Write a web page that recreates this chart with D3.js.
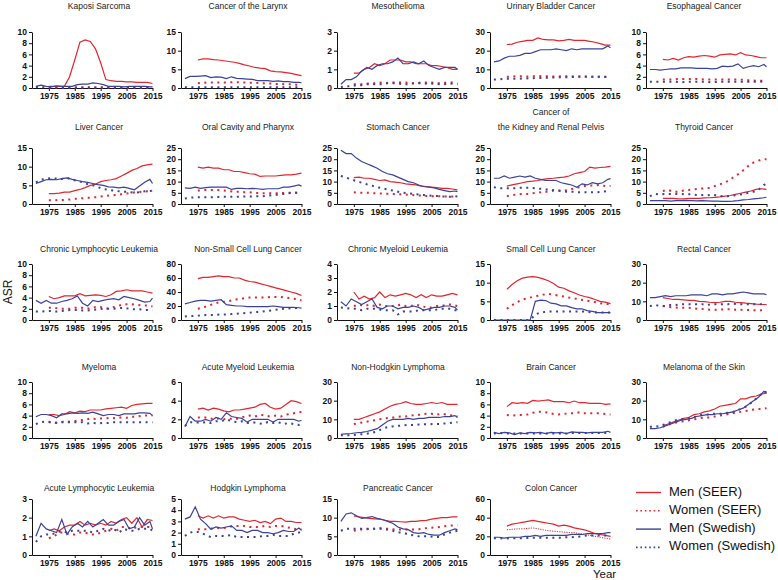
<!DOCTYPE html>
<html><head><meta charset="utf-8">
<script src="https://cdn.jsdelivr.net/npm/d3@7"></script>
<style>body{margin:0;background:#fff} svg{display:block} text{font-family:"Liberation Sans",Arial,sans-serif}</style>
</head><body><svg id="c" width="778" height="580"></svg>
<script>
const titles = ["Kaposi Sarcoma","Cancer of the Larynx","Mesothelioma","Urinary Bladder Cancer","Esophageal Cancer",
"Liver Cancer","Oral Cavity and Pharynx","Stomach Cancer","Cancer of\nthe Kidney and Renal Pelvis","Thyroid Cancer",
"Chronic Lymphocytic Leukemia","Non-Small Cell Lung Cancer","Chronic Myeloid Leukemia","Small Cell Lung Cancer","Rectal Cancer",
"Myeloma","Acute Myeloid Leukemia","Non-Hodgkin Lymphoma","Brain Cancer","Melanoma of the Skin",
"Acute Lymphocytic Leukemia","Hodgkin Lymphoma","Pancreatic Cancer","Colon Cancer"];
const yMax  = [10,15,3,30,10, 15,25,25,25,25, 10,80,4,15,30, 10,6,30,10,30, 3,5,15,60];
const yStep = [2,5,1,10,2, 5,5,5,5,5, 2,20,1,5,10, 2,2,10,2,10, 1,1,5,20];
const xTicks = [1975,1985,1995,2005,2015];
const yearsSEER = [1975,1977,1979,1981,1983,1985,1987,1989,1991,1993,1995,1997,1999,2001,2003,2005,2007,2009,2011,2013,2015];
const yearsSwe  = [1970,1972,1974,1976,1978,1980,1982,1984,1986,1988,1990,1992,1994,1996,1998,2000,2002,2004,2006,2008,2010,2012,2014,2015];
const seriesNames = ["Men (SEER)","Women (SEER)","Men (Swedish)","Women (Swedish)"];

const menSEER = [
[0.3,0.3,0.3,0.3,2.0,5.0,8.2,8.6,8.3,7.0,4.5,1.5,1.3,1.2,1.2,1.1,1.1,1.0,1.0,1.0,0.8],
[7.5,7.8,7.8,7.6,7.5,7.3,7.1,6.9,6.6,6.2,5.9,5.5,5.3,5.2,4.6,4.4,4.3,4.1,3.9,3.6,3.3],
[0.8,0.8,1.0,1.1,1.3,1.2,1.3,1.5,1.5,1.5,1.4,1.4,1.3,1.3,1.3,1.2,1.2,1.15,1.1,1.0,1.0],
[23.3,23.5,24.5,25.0,25.5,25.5,26.8,26.0,25.8,25.8,25.3,25.5,26.0,25.5,25.5,25.5,25.0,24.5,23.8,23.0,23.0],
[5.1,5.0,5.3,5.0,5.4,5.6,5.5,5.7,5.8,5.7,5.5,5.9,6.0,6.1,5.9,6.3,5.9,5.8,5.6,5.4,5.4],
[2.8,2.8,2.9,3.2,3.2,3.6,3.9,4.4,5.0,5.3,6.0,6.3,6.5,6.8,7.5,8.2,9.0,9.5,10.2,10.5,10.7],
[16.5,16.0,16.5,16.0,16.0,15.3,15.3,14.5,14.5,14.0,13.5,13.3,12.3,12.5,12.5,12.5,12.8,13.0,13.0,13.3,13.8],
[11.8,12.0,11.5,11.5,11.0,10.5,10.8,10.0,9.8,9.5,9.0,8.8,8.5,8.0,7.8,7.6,7.3,7.0,7.0,6.7,6.3],
[8.0,8.5,9.0,9.5,10.0,10.2,10.5,11.0,11.3,11.5,11.8,12.0,12.5,13.5,14.0,14.5,16.5,16.0,16.3,16.5,16.8],
[2.5,2.5,2.5,2.3,2.3,2.5,2.5,2.5,2.7,2.8,3.0,3.2,3.5,3.8,4.3,4.8,5.3,5.8,6.5,6.8,6.5],
[4.2,3.8,4.0,4.3,4.3,4.3,4.7,4.3,4.4,4.5,4.4,4.2,4.5,5.1,5.2,5.4,5.2,5.2,5.2,5.0,4.8],
[59,61,61,62,63,62,62,60,60,57,55,54,52,50,48,46,44,42,40,38,35],
[2.0,1.5,1.7,1.5,1.6,2.0,1.6,1.8,1.7,1.8,1.9,1.8,1.6,1.8,1.6,1.8,1.7,1.7,1.8,1.9,1.8],
[8.2,9.5,10.5,11.2,11.5,11.6,11.4,11.0,10.5,9.8,8.8,8.5,7.8,7.3,6.7,6.3,6.0,5.5,5.0,4.8,4.4],
[12.0,11.5,11.0,11.0,10.8,10.5,10.5,10.0,9.8,9.5,9.3,9.5,10.0,10.0,9.5,9.3,9.0,8.8,8.5,8.3,8.3],
[4.2,4.2,4.0,4.2,4.7,4.5,4.8,4.7,5.0,5.0,5.0,5.2,5.3,5.4,5.5,5.3,5.8,6.0,6.1,6.2,6.2],
[3.1,3.2,3.0,3.2,3.1,2.9,2.8,3.0,3.0,3.1,3.2,3.3,3.6,3.7,3.3,3.1,3.2,3.6,4.0,3.9,3.7],
[10,10,11,12,13,14,15.5,17,18,18.5,19.5,18.5,18,18,18.5,19,18.5,19,18,18,18],
[5.6,6.3,6.2,6.3,6.2,6.7,6.6,6.7,6.8,6.5,6.5,6.5,6.3,6.6,6.3,6.3,6.2,6.2,6.2,6.0,6.1],
[6.5,7.5,8.5,9.5,10.5,11.0,12.5,13.0,14.0,14.5,15.5,17.0,17.5,18.0,18.5,21.0,21.0,22.0,22.5,23.5,24.0],
[1.3,1.4,1.3,1.5,1.6,1.6,1.8,1.6,1.7,1.6,1.7,1.6,1.8,1.7,1.9,2.0,1.7,2.0,1.5,1.9,1.85],
[3.5,3.3,3.5,3.3,3.5,3.3,3.4,3.4,3.2,3.1,3.0,3.1,2.9,3.0,2.8,3.2,3.3,3.0,3.0,2.9,2.9],
[10.5,10.2,10.0,9.8,9.7,9.6,9.3,9.0,9.0,8.9,8.8,9.0,9.0,9.2,9.3,9.6,9.8,10.0,10.0,10.2,10.2],
[31,33,34,35,36,37,36,35,34,33,31,32,31,29,28,27,25,23,22,21,20]];

const womenSEER = [
[0.1,0.1,0.1,0.1,0.1,0.1,0.1,0.1,0.1,0.1,0.1,0.1,0.1,0.1,0.1,0.1,0.1,0.1,0.1,0.1,0.1],
[1.3,1.4,1.5,1.5,1.5,1.5,1.5,1.6,1.5,1.5,1.4,1.4,1.3,1.3,1.2,1.1,1.1,1.0,1.0,0.9,0.8],
[0.2,0.2,0.2,0.25,0.25,0.3,0.25,0.3,0.3,0.3,0.3,0.25,0.25,0.3,0.3,0.3,0.25,0.25,0.3,0.3,0.25],
[6.0,6.2,6.3,6.3,6.2,6.3,6.4,6.3,6.3,6.2,6.2,6.3,6.3,6.2,6.2,6.1,6.1,6.0,6.0,5.9,5.8],
[1.5,1.5,1.5,1.6,1.6,1.6,1.6,1.6,1.5,1.5,1.5,1.5,1.5,1.5,1.5,1.5,1.4,1.4,1.3,1.3,1.3],
[1.0,1.0,1.1,1.1,1.2,1.4,1.5,1.6,1.7,1.8,2.0,2.2,2.3,2.4,2.6,2.8,3.0,3.2,3.3,3.4,3.5],
[6.0,6.2,6.3,6.3,6.2,6.0,5.8,5.5,5.5,5.3,5.2,5.0,4.8,4.8,4.8,4.8,4.9,5.0,5.0,5.0,5.0],
[5.2,5.1,5.0,5.0,4.8,4.7,4.6,4.5,4.4,4.3,4.2,4.0,3.9,3.8,3.6,3.5,3.5,3.4,3.4,3.3,3.2],
[3.5,4.0,4.3,4.5,4.5,4.8,5.0,5.5,5.5,6.0,6.0,6.0,6.3,7.0,7.5,8.0,8.3,8.3,8.5,8.0,8.0],
[5.8,6.3,5.5,5.5,6.0,6.3,6.5,6.8,7.0,7.2,8.0,8.8,9.5,11.0,12.5,14.0,16.0,18.0,19.0,19.8,20.0],
[2.2,2.2,2.0,2.0,2.0,2.2,2.2,2.2,2.0,2.3,2.3,2.0,2.2,2.4,2.7,2.8,2.8,2.7,2.6,2.6,2.4],
[16,18,20,23,25,26,27,29,30,31,32,32,32,32,33,33,33,32,31,30,28],
[1.0,1.1,1.0,1.1,1.0,1.1,1.0,1.0,1.0,1.1,1.0,1.0,1.1,1.0,0.9,0.9,1.0,1.0,1.1,1.1,1.0],
[3.0,4.0,4.8,5.5,5.8,6.2,6.5,6.8,7.0,6.8,6.5,6.3,6.0,5.8,5.5,5.3,5.0,4.8,4.5,4.3,4.2],
[7.5,7.0,6.8,6.5,6.5,6.5,6.2,6.0,5.8,5.5,5.5,5.5,5.8,5.8,5.5,5.5,5.3,5.3,5.2,5.2,5.0],
[2.8,2.8,2.7,3.0,2.9,3.0,3.2,3.2,3.5,3.4,3.5,3.5,3.6,3.5,3.7,3.6,3.8,3.8,4.0,4.0,4.0],
[2.2,2.2,2.2,2.0,2.1,2.0,2.1,2.0,2.1,2.3,2.4,2.3,2.5,2.4,2.3,2.4,2.3,2.5,2.6,2.7,2.8],
[7.5,8,8.5,9,9.5,10,10.5,11,11,11.5,11.5,12,12.5,12.5,13,13,12.5,13,12.5,12,11.5],
[4.1,4.0,4.1,4.1,4.2,4.5,4.7,4.7,4.5,4.3,4.2,4.3,4.4,4.4,4.6,4.4,4.4,4.4,4.4,4.3,4.2],
[6.0,7.0,8.0,8.5,9.0,9.5,10.0,10.5,11.0,11.0,11.5,12.0,12.5,13.0,13.5,14.0,14.5,15.0,15.5,15.5,16.0],
[0.9,1.0,1.2,1.2,1.1,1.1,1.2,1.2,1.1,1.1,1.2,1.3,1.4,1.3,1.5,1.5,1.4,1.5,1.5,1.5,1.5],
[2.3,2.3,2.3,2.4,2.4,2.4,2.5,2.6,2.6,2.6,2.5,2.5,2.5,2.6,2.5,2.6,2.6,2.5,2.4,2.3,2.3],
[6.5,6.8,6.8,7.0,7.0,7.2,7.0,7.0,6.8,6.8,6.8,6.8,6.8,7.0,7.2,7.3,7.4,7.6,7.8,7.9,8.0],
[27,27.5,28,28,28.5,29,28,27,26,25.5,25,24.5,24,24,23,22,21,20,19,18,17]];

const menSwe = [
[0.3,0.5,0.3,0.2,0.4,0.3,0.3,0.3,0.6,0.7,0.7,0.9,0.8,0.6,0.3,0.3,0.3,0.2,0.3,0.3,0.3,0.3,0.2,0.2],
[2.5,3.1,3.1,3.2,3.3,2.8,3.0,2.9,2.5,3.0,2.6,2.5,2.4,2.3,2.0,2.0,2.0,1.8,1.9,1.7,1.7,1.5,1.5,1.4],
[0.2,0.45,0.45,0.6,0.9,1.1,1.0,1.2,1.3,1.3,1.4,1.6,1.3,1.3,1.4,1.3,1.45,1.2,1.1,1.0,1.1,1.1,1.1,1.0],
[14,14.5,16,17,17,17.5,18.5,18.5,19.5,20.5,20.5,20.5,21,20.5,20,21,20.5,21,21,21,21,21,22.5,21.5],
[3.3,3.3,3.2,3.3,3.4,3.4,3.6,3.6,3.6,3.5,3.5,3.5,3.4,3.5,3.9,3.8,3.9,4.3,3.5,3.8,4.0,3.8,4.2,3.8],
[5.5,6.0,6.5,6.6,6.5,6.8,7.0,6.6,6.3,6.0,5.8,5.5,5.2,5.0,4.6,4.5,4.3,4.5,4.2,3.8,4.8,5.8,6.6,5.5],
[7.2,7.0,7.5,7.0,7.3,7.5,7.5,7.5,7.5,6.5,7.0,7.0,6.8,7.0,6.8,6.5,6.8,6.8,6.8,7.5,7.5,8.0,8.5,8.0],
[24,22.5,22.5,20.5,19,18,17,16,14.5,13.5,13,12,11,10,9.5,8.5,7.8,7.5,7.2,6.5,6.0,5.5,5.8,5.5],
[11.5,11.5,12.5,11.5,12,12.5,12,12.5,11.5,11,10.5,10.5,10.5,9.5,9.0,8.5,7.5,9.0,8.5,9.5,9.0,9.5,11.0,11.3],
[1.5,1.5,1.5,1.5,1.3,1.5,1.5,1.6,1.5,1.4,1.5,1.4,1.3,1.3,1.2,1.2,1.3,1.5,1.8,2.0,2.3,2.5,2.8,3.0],
[3.5,3.0,3.5,3.0,3.0,3.3,3.5,3.8,4.3,3.0,2.5,3.5,3.3,3.5,3.7,3.8,3.6,4.2,4.0,3.8,3.5,3.2,3.3,3.9],
[23,25,27,28,28,27,28,29,22,21,20,20,19,19,19,19,19,20,19,18,18,18,17.5,17],
[1.3,1.0,1.5,1.3,1.1,1.3,1.5,0.9,0.8,1.0,1.0,0.8,0.9,0.9,1.0,0.9,0.7,0.8,0.9,0.9,1.0,1.0,0.9,0.7],
[0,0,0,0,0,0,0,0,5.0,5.3,5.2,4.5,4.3,3.8,3.8,3.3,3.0,3.0,2.5,2.3,2.0,2.0,2.0,2.0],
[12.0,12.0,12.5,13.0,12.5,13.0,13.0,13.0,13.5,13.5,13.5,13.0,14.0,14.0,13.5,14.0,14.0,14.5,15.0,14.5,14.0,14.0,14.0,13.5],
[3.8,4.2,4.2,4.0,3.6,4.3,4.3,4.5,4.4,4.5,4.4,4.6,4.3,4.0,4.2,4.2,4.0,4.3,4.3,4.3,4.5,4.5,4.4,4.0],
[1.2,2.3,1.8,1.8,2.0,1.8,2.2,2.0,2.7,2.3,2.2,2.1,1.7,2.0,2.0,2.0,2.0,1.7,2.0,2.0,2.0,2.0,1.8,1.9],
[2.0,2.2,2.4,2.8,3.0,3.5,4.2,5.0,7.0,9.0,10.0,10.0,10.0,10.5,10.0,10.5,10.5,11.0,11.0,11.0,11.5,11.5,12.0,11.0],
[1.0,0.8,1.0,0.9,0.6,0.9,0.8,1.0,0.9,1.0,0.8,1.0,0.9,1.0,0.8,1.1,1.0,1.0,0.9,1.0,1.0,1.0,1.2,1.0],
[5.0,5.0,5.5,6.5,7.5,8.5,9.5,10.0,10.5,11.5,12.0,12.5,12.5,13.0,13.0,13.5,14.0,15.0,16.0,18.0,20.0,22.0,25.0,24.0],
[1.0,1.7,1.4,1.3,1.2,1.9,1.1,1.5,1.7,1.5,1.8,1.5,1.7,1.9,1.6,1.6,1.8,1.9,1.4,1.5,2.0,1.6,1.8,1.4],
[3.2,3.4,4.3,3.2,2.8,2.3,2.5,2.4,2.5,2.6,2.2,2.2,2.0,2.2,2.2,2.0,2.0,1.9,2.0,2.2,2.1,2.1,2.4,2.2],
[9.0,11.0,11.3,10.5,9.8,10.0,10.3,9.8,9.5,9.0,8.5,7.5,7.0,6.8,6.0,5.8,6.0,5.5,5.3,5.3,6.0,6.5,7.0,6.8],
[19,19,18,19,19,19,20,20,21,20,21,21,21,21,21,22,22,22,23,23,23,23,24,24]];

const womenSwe = [
[0.2,0.2,0.1,0.1,0.1,0.1,0.1,0.1,0.1,0.1,0.1,0.1,0.1,0.1,0.1,0.1,0.1,0.1,0.1,0.1,0.1,0.1,0.1,0.1],
[0.2,0.2,0.2,0.2,0.2,0.2,0.2,0.2,0.2,0.2,0.2,0.2,0.2,0.2,0.2,0.2,0.2,0.2,0.2,0.2,0.2,0.2,0.2,0.2],
[0.05,0.1,0.1,0.15,0.15,0.2,0.2,0.2,0.2,0.25,0.25,0.25,0.2,0.2,0.25,0.25,0.25,0.2,0.25,0.2,0.2,0.25,0.2,0.2],
[4.5,4.7,4.8,5.0,5.0,5.0,5.1,5.2,5.3,5.4,5.5,5.6,5.7,5.8,5.8,5.9,6.0,6.0,6.0,6.0,6.0,6.0,6.0,6.0],
[1.1,1.1,1.1,1.1,1.1,1.1,1.0,1.1,1.1,1.1,1.1,1.1,1.0,1.1,1.1,1.1,1.1,1.1,1.1,1.1,1.1,1.1,1.2,1.2],
[5.8,6.5,6.8,6.9,6.8,6.7,7.0,6.5,6.2,5.8,5.3,5.0,4.5,4.0,3.8,3.6,3.4,3.3,3.2,3.0,3.2,3.4,3.5,3.6],
[2.5,2.8,3.0,3.0,3.0,3.0,3.1,3.2,3.2,3.2,3.2,3.3,3.3,3.4,3.5,3.5,3.7,4.0,4.2,4.5,4.8,5.0,5.0,5.0],
[12.5,11.8,11.0,10.2,9.5,8.8,8.2,7.5,7.0,6.5,6.0,5.5,5.0,4.8,4.5,4.2,4.0,3.8,3.6,3.5,3.3,3.2,3.5,3.3],
[7.5,7.0,7.0,7.0,7.0,7.2,7.3,7.3,7.0,6.8,6.5,6.3,6.0,5.8,5.5,5.5,5.3,5.3,5.2,5.2,5.3,5.5,5.8,5.8],
[3.5,4.5,4.2,4.5,4.5,4.5,4.5,4.3,4.3,4.0,4.0,3.8,4.2,3.8,3.5,3.5,3.8,4.0,4.5,5.0,5.5,6.5,8.5,9.0],
[1.5,1.5,1.6,1.6,1.5,1.6,1.7,1.8,1.8,1.7,1.7,1.8,1.9,2.0,2.0,2.0,2.1,2.2,2.0,1.9,1.9,1.8,1.8,1.8],
[5,5.5,6,6.5,7,7,7.5,8,8,8.5,9,9.5,10,11,11.5,12,13,14,15,16,16.5,17,17,17],
[0.9,0.85,0.8,0.8,0.7,0.8,0.8,0.8,0.7,0.7,0.7,0.4,0.6,0.6,0.6,0.7,0.7,0.7,0.7,0.8,0.8,0.8,0.7,0.7],
[0,0,0,0,0,0,0,0,1.5,2.0,2.2,2.3,2.3,2.3,2.3,2.3,2.3,2.3,2.2,2.0,2.0,2.0,2.0,2.0],
[7.5,8.0,7.5,7.5,8.0,8.0,8.5,8.5,8.5,8.5,8.5,8.0,8.5,8.5,8.5,8.5,8.8,8.5,8.5,8.5,8.5,8.5,8.3,8.0],
[2.5,2.8,3.0,2.8,2.7,2.8,2.8,2.8,2.8,2.8,2.6,2.7,2.6,2.7,2.7,2.8,2.8,2.8,2.8,2.8,2.8,2.8,2.8,2.8],
[1.3,1.7,1.7,1.6,1.7,1.6,1.8,1.8,2.0,1.8,1.7,1.8,1.6,1.7,1.6,1.5,1.7,1.6,1.7,1.5,1.6,1.5,1.4,1.5],
[1.5,1.5,1.5,1.8,2.0,2.3,2.8,3.5,5.0,5.8,6.2,6.5,6.8,7.0,7.0,7.2,7.3,7.3,7.5,7.5,7.8,8.0,8.5,8.5],
[0.8,0.9,0.8,0.8,0.8,0.8,0.8,0.8,0.8,0.8,0.8,0.8,0.8,0.8,0.8,0.9,0.9,0.9,0.9,0.9,0.9,0.9,0.9,0.9],
[6.0,6.0,6.5,7.5,8.5,9.5,10.0,10.5,11.0,11.5,12.5,12.5,13.0,13.0,13.0,13.5,14.0,15.0,16.0,17.5,20.0,22.0,25.0,24.5],
[0.7,1.0,1.1,1.1,1.2,1.3,1.2,1.3,1.3,1.3,1.3,1.2,1.3,1.4,1.3,1.4,1.2,1.4,1.3,1.3,1.4,1.4,1.4,1.3],
[1.7,2.0,2.1,2.0,1.8,1.6,1.7,1.7,1.7,1.8,1.6,1.6,1.6,1.6,1.6,1.7,1.7,1.8,1.7,1.7,1.7,1.9,2.0,2.1],
[6.5,7.0,7.0,7.0,7.0,7.0,7.0,7.0,7.0,6.8,6.5,6.0,6.0,5.5,5.3,5.0,5.0,5.0,4.8,4.8,5.5,6.0,6.3,6.5],
[18,18,17.5,18,18,18,18,18.5,18.5,18.5,18.5,18.5,18.5,18.5,19,19,19.5,20,21,21,21,21,21,21]];

const RED = "#e1262f", BLUE = "#3a429c";
const colX = [32,181,337,490,646], rowY = [32,148,264,382,499];
const titleCX = [99,248,398,551,704], titleCY = [6,127,249,367,488];
const W = 120.5, H = 56;

const svg = d3.select("#c");
const styles = [
  {data: menSEER, years: yearsSEER, color: RED, dash: null},
  {data: womenSEER, years: yearsSEER, color: RED, dash: "2,4.5"},
  {data: menSwe, years: yearsSwe, color: BLUE, dash: null},
  {data: womenSwe, years: yearsSwe, color: BLUE, dash: "2,4.5"}
];

titles.forEach((t, i) => {
  const col = i % 5, row = Math.floor(i / 5);
  const g = svg.append("g").attr("transform", `translate(${colX[col]},${rowY[row]})`);
  const x = d3.scaleLinear().domain([1968.5, 2015]).range([0, W]);
  const y = d3.scaleLinear().domain([0, yMax[i]]).range([H, 0]);
  const line = d3.line().x(d => x(d[0])).y(d => y(d[1]));

  const ya = g.append("g").call(d3.axisLeft(y).tickValues(d3.range(0, yMax[i] + 1e-9, yStep[i]))
    .tickFormat(d3.format("d")).tickSize(3).tickSizeOuter(0).tickPadding(2));
  const xa = g.append("g").attr("transform", `translate(0,${H})`).call(d3.axisBottom(x).tickValues(xTicks)
    .tickFormat(d3.format("d")).tickSize(3).tickSizeOuter(0).tickPadding(1.5));
  [ya, xa].forEach(a => {
    a.selectAll("path,line").attr("stroke", "#111").attr("stroke-width", 1);
    a.selectAll("text").attr("fill", "#111").style("font-size", "8.5px").style("font-weight", "bold");
  });

  styles.forEach(s => {
    const pts = s.years.map((yr, k) => [yr, s.data[i][k]]);
    const fine = s.dash && i === 23 && s.color === RED;
    g.append("path").datum(pts).attr("d", line).attr("fill", "none")
      .attr("stroke", s.color).attr("stroke-width", s.dash ? (fine ? 1 : 2) : 1.2)
      .attr("stroke-dasharray", fine ? "1.2,1.2" : s.dash);
  });

  const lines = t.split("\n");
  lines.forEach((ln, k) => {
    svg.append("text").attr("x", titleCX[col]).attr("y", titleCY[row] - (lines.length - 1 - k) * 15)
      .attr("dy", "0.35em").attr("text-anchor", "middle").style("font-size", "8.5px").attr("fill", "#222").text(ln);
  });
});

// axis titles
svg.append("text").attr("transform", "translate(8,292) rotate(-90)").attr("text-anchor", "middle")
  .attr("dy", "0.35em").style("font-size", "12px").attr("fill", "#111").text("ASR");
svg.append("text").attr("x", 604.5).attr("y", 577.5).attr("text-anchor", "middle")
  .style("font-size", "11.5px").attr("fill", "#111").text("Year");

// legend
const lg = svg.append("g");
styles.forEach((s, k) => {
  const yy = 492.5 + k * 18.3;
  lg.append("line").attr("x1", 636).attr("x2", 661).attr("y1", yy).attr("y2", yy)
    .attr("stroke", s.color).attr("stroke-width", s.dash ? 1.6 : 1.4).attr("stroke-dasharray", s.dash ? "1.6,2.8" : null);
  lg.append("text").attr("x", 669).attr("y", yy - 1.5).attr("dy", "0.35em")
    .style("font-size", "13px").attr("fill", "#111").text(seriesNames[k]);
});
</script></body></html>
